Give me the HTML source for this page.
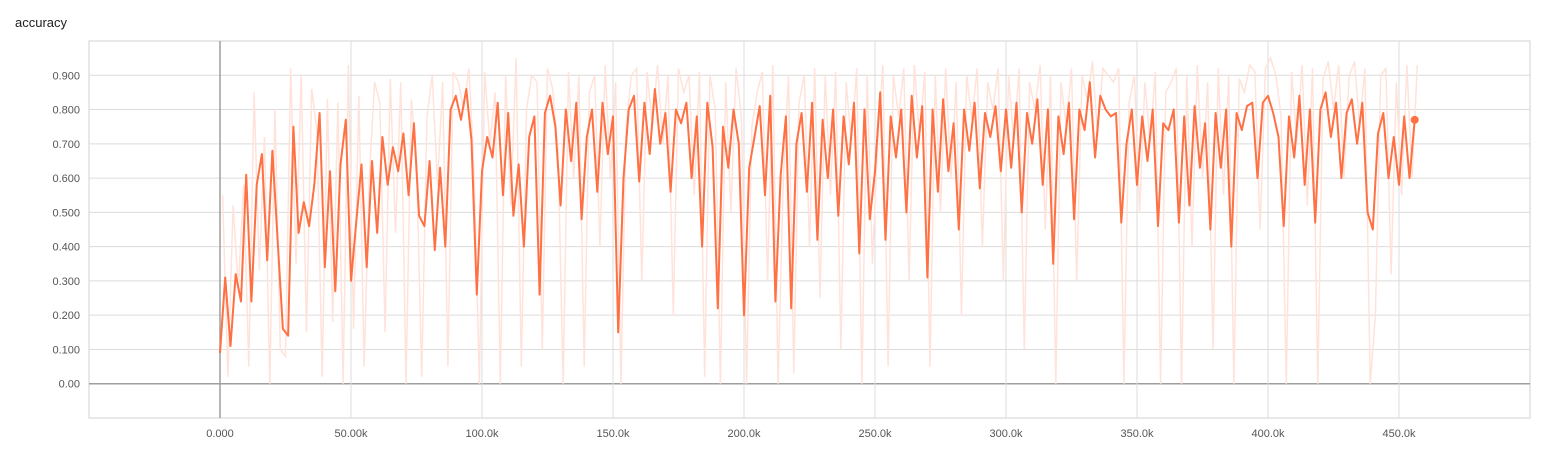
<!DOCTYPE html>
<html><head><meta charset="utf-8"><style>
body{margin:0;background:#fff;width:1543px;height:444px;overflow:hidden;font-family:"Liberation Sans",sans-serif}
svg text{font-family:"Liberation Sans",sans-serif}
</style></head><body>
<svg id="chart" width="1543" height="444" xmlns="http://www.w3.org/2000/svg">
<text x="15" y="27" font-size="13" fill="#212121">accuracy</text>
<g id="grid"></g><g id="raw"></g><g id="smooth"></g><g id="labels"></g>
</svg>
<script>
const stepStart = 0;
const stepInterval = 2000;
const smoothedValues = [
.09,.31,.11,.32,.24,.61,.24,.58,.67,.36,
.68,.42,.16,.14,.75,.44,.53,.46,.58,.79,
.34,.62,.27,.64,.77,.30,.47,.64,.34,.65,
.44,.72,.58,.69,.62,.73,.55,.76,.49,.46,
.65,.39,.63,.40,.80,.84,.77,.86,.71,.26,
.62,.72,.66,.82,.55,.79,.49,.64,.40,.72,
.78,.26,.79,.84,.75,.52,.80,.65,.82,.48,
.72,.80,.56,.82,.67,.78,.15,.60,.80,.84,
.59,.82,.67,.86,.70,.79,.56,.80,.76,.82,
.60,.78,.40,.82,.69,.22,.75,.63,.80,.70,
.20,.63,.72,.81,.55,.84,.24,.61,.78,.22,
.70,.79,.56,.82,.42,.77,.60,.80,.49,.78,
.64,.82,.38,.80,.48,.62,.85,.42,.78,.66,
.80,.50,.84,.66,.81,.31,.80,.56,.83,.62,
.76,.45,.80,.68,.82,.57,.79,.72,.81,.62,
.80,.63,.82,.50,.79,.70,.83,.58,.80,.35,
.78,.67,.82,.48,.80,.74,.88,.66,.84,.80,
.78,.79,.47,.70,.80,.58,.78,.65,.80,.46,
.76,.74,.80,.47,.78,.52,.81,.63,.76,.45,
.79,.63,.80,.40,.79,.74,.81,.82,.60,.82,
.84,.79,.72,.46,.78,.66,.84,.58,.80,.47,
.80,.85,.72,.82,.60,.79,.83,.70,.82,.50,
.45,.73,.79,.60,.72,.58,.78,.60,.77];
const rawValues = [
.55,.02,.52,.28,.58,.05,.85,.33,.72,.00,
.80,.10,.08,.92,.35,.90,.15,.86,.74,.02,
.83,.18,.82,.00,.93,.16,.84,.05,.60,.88,
.82,.15,.89,.44,.88,.00,.83,.65,.02,.78,
.90,.58,.88,.05,.91,.88,.80,.92,.62,.00,
.91,.70,.85,.00,.90,.52,.95,.05,.80,.90,
.88,.10,.92,.86,.68,.00,.91,.60,.90,.05,
.85,.90,.40,.93,.60,.88,.00,.75,.90,.92,
.30,.91,.75,.93,.70,.90,.20,.92,.85,.90,
.55,.91,.02,.90,.80,.00,.88,.50,.92,.78,
.00,.75,.85,.91,.30,.93,.00,.60,.90,.03,
.82,.90,.40,.92,.25,.90,.55,.91,.10,.88,
.70,.92,.00,.90,.35,.70,.93,.05,.90,.78,
.92,.30,.93,.72,.91,.05,.90,.50,.92,.60,
.88,.20,.90,.77,.92,.40,.88,.80,.92,.30,
.90,.70,.92,.10,.88,.80,.93,.45,.90,.00,
.88,.75,.92,.30,.90,.83,.94,.72,.92,.90,
.88,.92,.00,.82,.90,.50,.88,.70,.91,.00,
.85,.88,.92,.00,.90,.40,.93,.60,.88,.10,
.92,.55,.90,.00,.89,.85,.93,.91,.45,.92,
.95,.90,.78,.00,.91,.70,.93,.52,.92,.00,
.89,.94,.80,.93,.60,.90,.94,.75,.92,.00,
.20,.90,.92,.32,.88,.55,.93,.60,.93];
const yTicks = [0,0.1,0.2,0.3,0.4,0.5,0.6,0.7,0.8,0.9];
const yTickLabels = ["0.00","0.100","0.200","0.300","0.400","0.500","0.600","0.700","0.800","0.900"];
const xTicks = [0,50000,100000,150000,200000,250000,300000,350000,400000,450000];
const xTickLabels = ["0.000","50.00k","100.0k","150.0k","200.0k","250.0k","300.0k","350.0k","400.0k","450.0k"];

const NS="http://www.w3.org/2000/svg";
const L=89,R=1530,T=41,B=418;
const xMin=-50000,xMax=500000,yMin=-0.1,yMax=1.0;
const xs=v=>L+(v-xMin)/(xMax-xMin)*(R-L);
const ys=v=>B-(v-yMin)/(yMax-yMin)*(B-T);
function mk(tag,parent,attrs){const e=document.createElementNS(NS,tag);for(const k in attrs)e.setAttribute(k,attrs[k]);parent.appendChild(e);return e;}
const grid=document.getElementById('grid'),labels=document.getElementById('labels');
let e=mk('rect',grid,{x:L,y:T,width:R-L,height:B-T,fill:'none',stroke:'#e0e0e0','stroke-width':1.5});


yTicks.forEach((v,i)=>{
  const y=ys(v);
  const g=mk('line',grid,{x1:L,x2:R,y1:y,y2:y,stroke:v===0?'#9e9e9e':'#dcdcdc','stroke-width':v===0?1.5:1});
  
  
  const t=mk('text',labels,{x:80,y:y+4,'text-anchor':'end','font-size':11,fill:'#555'});
  t.textContent=yTickLabels[i];
  
  
});
xTicks.forEach((v,i)=>{
  const x=xs(v);
  const g=mk('line',grid,{x1:x,x2:x,y1:T,y2:B,stroke:v===0?'#9e9e9e':'#dcdcdc','stroke-width':v===0?1.5:1});
  
  
  const t=mk('text',labels,{x:x,y:437,'text-anchor':'middle','font-size':11,fill:'#555'});
  t.textContent=xTickLabels[i];
  
  
});
function path(vals,off){return vals.map((v,i)=>(i?'L':'M')+xs(stepStart+off+i*stepInterval).toFixed(1)+','+ys(v).toFixed(1)).join('');}
const rp=mk('path',document.getElementById('raw'),{d:path(rawValues,1000),fill:'none',stroke:'#ffe3da','stroke-width':1.5});


const sp=mk('path',document.getElementById('smooth'),{d:path(smoothedValues,0),fill:'none',stroke:'#ff7043','stroke-width':2,'stroke-linejoin':'round'});


const li=smoothedValues.length-1;
const dot=mk('circle',document.getElementById('smooth'),{cx:xs(stepStart+li*stepInterval),cy:ys(smoothedValues[li]),r:4,fill:'#ff7043'});


</script>
</body></html>
